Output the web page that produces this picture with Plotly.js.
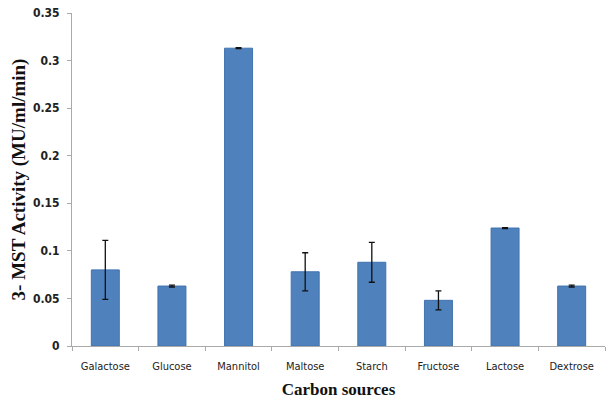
<!DOCTYPE html>
<html>
<head>
<meta charset="utf-8">
<script src="https://cdn.plot.ly/plotly-3.0.1.min.js"></script>
<style>html,body{margin:0;padding:0;background:#fff}#chart{width:606px;height:407px}</style>
</head>
<body>
<div id="chart"></div>
<script>
const categories = ["Galactose","Glucose","Mannitol","Maltose","Starch","Fructose","Lactose","Dextrose"];
const activity = [0.080, 0.063, 0.313, 0.078, 0.088, 0.048, 0.124, 0.063];
const errors = [0.031, 0.001, 0.0005, 0.020, 0.021, 0.010, 0.0005, 0.001];
const yTicks = [0, 0.05, 0.1, 0.15, 0.2, 0.25, 0.3, 0.35];
const yTickText = ["0","0.05","0.1","0.15","0.2","0.25","0.3","0.35"];

const trace = {
  type: "bar",
  x: categories,
  y: activity,
  marker: {color: "#4F81BD", line: {color: "#4073B0", width: 1}},
  error_y: {type: "data", array: errors, visible: true, color: "#111", thickness: 1.3, width: 3}
};

const layout = {
  width: 606, height: 407,
  margin: {l: 72, r: 1, t: 13, b: 61},
  paper_bgcolor: "#fff", plot_bgcolor: "#fff",
  bargap: 0.58,
  showlegend: false,
  font: {family: "'DejaVu Sans Condensed', 'Liberation Sans', sans-serif", color: "#222"},
  xaxis: {
    showline: true, linecolor: "#aaa", linewidth: 1,
    ticks: "outside", ticklen: 4, tickcolor: "#aaa", tickson: "boundaries",
    ticklabelstandoff: 10,
    tickfont: {size: 11, color: "#222"},
    title: {text: "<b>Carbon sources</b>", font: {family: "'Liberation Serif', serif", size: 17, color: "#111"}, standoff: 10}
  },
  yaxis: {
    range: [0, 0.35],
    tickvals: yTicks, ticktext: yTickText,
    showline: true, linecolor: "#aaa", linewidth: 1,
    ticks: "outside", ticklen: 4, tickcolor: "#aaa",
    showgrid: false, zeroline: false,
    ticklabelstandoff: 5,
    tickfont: {size: 12, color: "#222", family: "'DejaVu Sans Condensed', sans-serif", weight: "bold"},
    title: {text: "<b>3- MST Activity (MU/ml/min)</b>", font: {family: "'Liberation Serif', serif", size: 19, color: "#111"}, standoff: 2}
  }
};

Plotly.newPlot("chart", [trace], layout, {displayModeBar: false, staticPlot: true});
</script>
</body>
</html>
